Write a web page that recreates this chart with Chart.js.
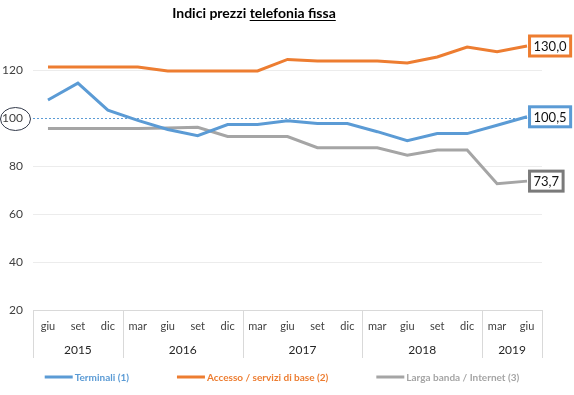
<!DOCTYPE html>
<html>
<head>
<meta charset="utf-8">
<script src="https://cdn.jsdelivr.net/npm/chart.js@4"></script>
<style>
  html, body { margin: 0; padding: 0; background: #fff; }
  #wrap { width: 574px; height: 395px; position: relative; }
</style>
</head>
<body>
<div id="wrap"><canvas id="chart-1"></canvas></div>
<script>
const months = ['giu', 'set', 'dic', 'mar', 'giu', 'set', 'dic', 'mar', 'giu', 'set', 'dic', 'mar', 'giu', 'set', 'dic', 'mar', 'giu'];
const years = ['2015', '2016', '2017', '2018', '2019'];
const yearSpans = [3, 4, 4, 4, 2];

const terminali = [107.5, 114.5, 103.3, 99.0, 95.2, 92.6, 97.3, 97.3, 98.9, 97.7, 97.7, 94.3, 90.5, 93.5, 93.5, 97.0, 100.5];
const accesso = [121.2, 121.2, 121.2, 121.2, 119.6, 119.6, 119.6, 119.6, 124.4, 123.7, 123.7, 123.7, 122.9, 125.4, 129.6, 127.6, 130.0];
const larga = [95.6, 95.6, 95.6, 95.6, 95.8, 96.1, 92.3, 92.3, 92.3, 87.6, 87.6, 87.6, 84.5, 86.7, 86.7, 72.6, 73.7];

const seriesNames = ['Terminali (1)', 'Accesso / servizi di base (2)', 'Larga banda / Internet (3)'];
const yTicks = [20, 40, 60, 80, 100, 120];
const refValue = 100;

const FONT = 'Lato, "Open Sans", sans-serif';
const blue = '#5b9bd5', orange = '#ed7d31', grey = '#a5a5a5';

// title, year row, reference line, end labels, legend
const decor = {
  id: 'decor',
  beforeDatasetsDraw(chart) {
    const { ctx, chartArea } = chart;
    const y = chart.scales.y.getPixelForValue(refValue);
    ctx.save();
    ctx.strokeStyle = blue;
    ctx.lineWidth = 1;
    ctx.setLineDash([2, 2]);
    ctx.beginPath();
    ctx.moveTo(chartArea.left, y + 0.5);
    ctx.lineTo(chartArea.right, y + 0.5);
    ctx.stroke();
    ctx.restore();
  },
  afterDraw(chart) {
    const { ctx, chartArea } = chart;
    const xs = chart.scales.x, ys = chart.scales.y;
    ctx.save();

    // title with underline
    ctx.font = 'bold 14px ' + FONT;
    ctx.fillStyle = '#000';
    ctx.textBaseline = 'alphabetic';
    const t1 = 'Indici prezzi ', t2 = 'telefonia fissa';
    const w1 = ctx.measureText(t1).width, w2 = ctx.measureText(t2).width;
    let tx = 254 - (w1 + w2) / 2;
    ctx.textAlign = 'left';
    ctx.fillText(t1, tx, 18);
    ctx.fillText(t2, tx + w1, 18);
    ctx.fillRect(tx + w1, 20, w2, 1);

    // circle round the 100 tick
    const y100 = ys.getPixelForValue(refValue);
    ctx.strokeStyle = '#333a4a';
    ctx.lineWidth = 1;
    ctx.beginPath();
    ctx.ellipse(15.5, y100 + 1, 15, 11.5, 0, 0, Math.PI * 2);
    ctx.stroke();

    // year separators and labels
    const bottom = chartArea.bottom;
    ctx.strokeStyle = '#d9d9d9';
    ctx.fillStyle = '#262626';
    ctx.font = '12px ' + FONT;
    ctx.textAlign = 'center';
    ctx.textBaseline = 'middle';
    let start = 0;
    const edge = i => i <= 0 ? chartArea.left : i >= months.length ? chartArea.right
      : (xs.getPixelForValue(i - 1) + xs.getPixelForValue(i)) / 2;
    for (let g = 0; g <= years.length; g++) {
      const x = Math.round(edge(start)) + 0.5;
      ctx.beginPath();
      ctx.moveTo(x, bottom);
      ctx.lineTo(x, bottom + 48);
      ctx.stroke();
      if (g < years.length) {
        const end = start + yearSpans[g];
        ctx.fillText(years[g], (edge(start) + edge(end)) / 2, bottom + 40);
        start = end;
      }
    }

    // end value boxes
    ctx.font = '13px ' + FONT;
    ctx.textAlign = 'left';
    const boxColors = [blue, orange, '#7a7a7a'];
    chart.data.datasets.forEach((ds, i) => {
      const pts = chart.getDatasetMeta(i).data;
      const p = pts[pts.length - 1];
      const txt = ds.data[ds.data.length - 1].toFixed(1).replace('.', ',');
      const w = ctx.measureText(txt).width + 8;
      const h = 20;
      const bx = p.x + 2.5, by = p.y - h / 2;
      ctx.fillStyle = '#fff';
      ctx.fillRect(bx, by, w, h);
      ctx.strokeStyle = boxColors[i];
      ctx.lineWidth = 3;
      ctx.strokeRect(bx, by, w, h);
      ctx.fillStyle = '#111';
      ctx.fillText(txt, bx + 4, p.y + 1);
    });

    // legend
    ctx.font = 'bold 10px ' + FONT;
    const gap = 48, lineLen = 28;
    const widths = chart.data.datasets.map(ds => lineLen + 2 + ctx.measureText(ds.label).width);
    const total = widths.reduce((a, b) => a + b, 0) + gap * (widths.length - 1);
    let lx = 282 - total / 2;
    const ly = 377;
    chart.data.datasets.forEach((ds, i) => {
      ctx.strokeStyle = ds.borderColor;
      ctx.lineWidth = 3;
      ctx.beginPath();
      ctx.moveTo(lx, ly);
      ctx.lineTo(lx + lineLen, ly);
      ctx.stroke();
      ctx.fillStyle = ds.borderColor;
      ctx.fillText(ds.label, lx + lineLen + 2, ly + 1);
      lx += widths[i] + gap;
    });
    ctx.restore();
  }
};

const ctx1 = document.getElementById('chart-1').getContext('2d');
const myChart = new Chart(ctx1, {
  type: 'line',
  data: {
    labels: months,
    datasets: [
      { label: seriesNames[0], data: terminali, borderColor: blue, backgroundColor: blue },
      { label: seriesNames[1], data: accesso, borderColor: orange, backgroundColor: orange },
      { label: seriesNames[2], data: larga, borderColor: grey, backgroundColor: grey }
    ]
  },
  options: {
    responsive: true,
    maintainAspectRatio: false,
    animation: false,
    layout: { padding: { top: 34, right: 32, left: 0, bottom: 0 } },
    elements: {
      line: { borderWidth: 3, tension: 0 },
      point: { radius: 0 }
    },
    scales: {
      x: {
        offset: true,
        grid: { display: false, drawTicks: false, offset: true },
        border: { color: '#d9d9d9' },
        ticks: { color: '#404040', font: { family: FONT, size: 11 }, padding: 10, autoSkip: false, maxRotation: 0 },
        afterFit(scale) { scale.height = 85; }
      },
      y: {
        min: 20,
        max: 135,
        afterBuildTicks(scale) { scale.ticks = yTicks.map(v => ({ value: v })); },
        grid: {
          drawTicks: false,
          color: c => (c.tick && (c.tick.value === refValue || c.tick.value === 20)) ? 'rgba(0,0,0,0)' : '#ececec'
        },
        border: { display: false },
        ticks: { color: '#404040', font: { family: FONT, size: 12 }, padding: 10 },
        afterFit(scale) { scale.width = 33; }
      }
    },
    plugins: {
      legend: { display: false },
      tooltip: { enabled: false }
    }
  },
  plugins: [decor]
});
</script>
</body>
</html>
